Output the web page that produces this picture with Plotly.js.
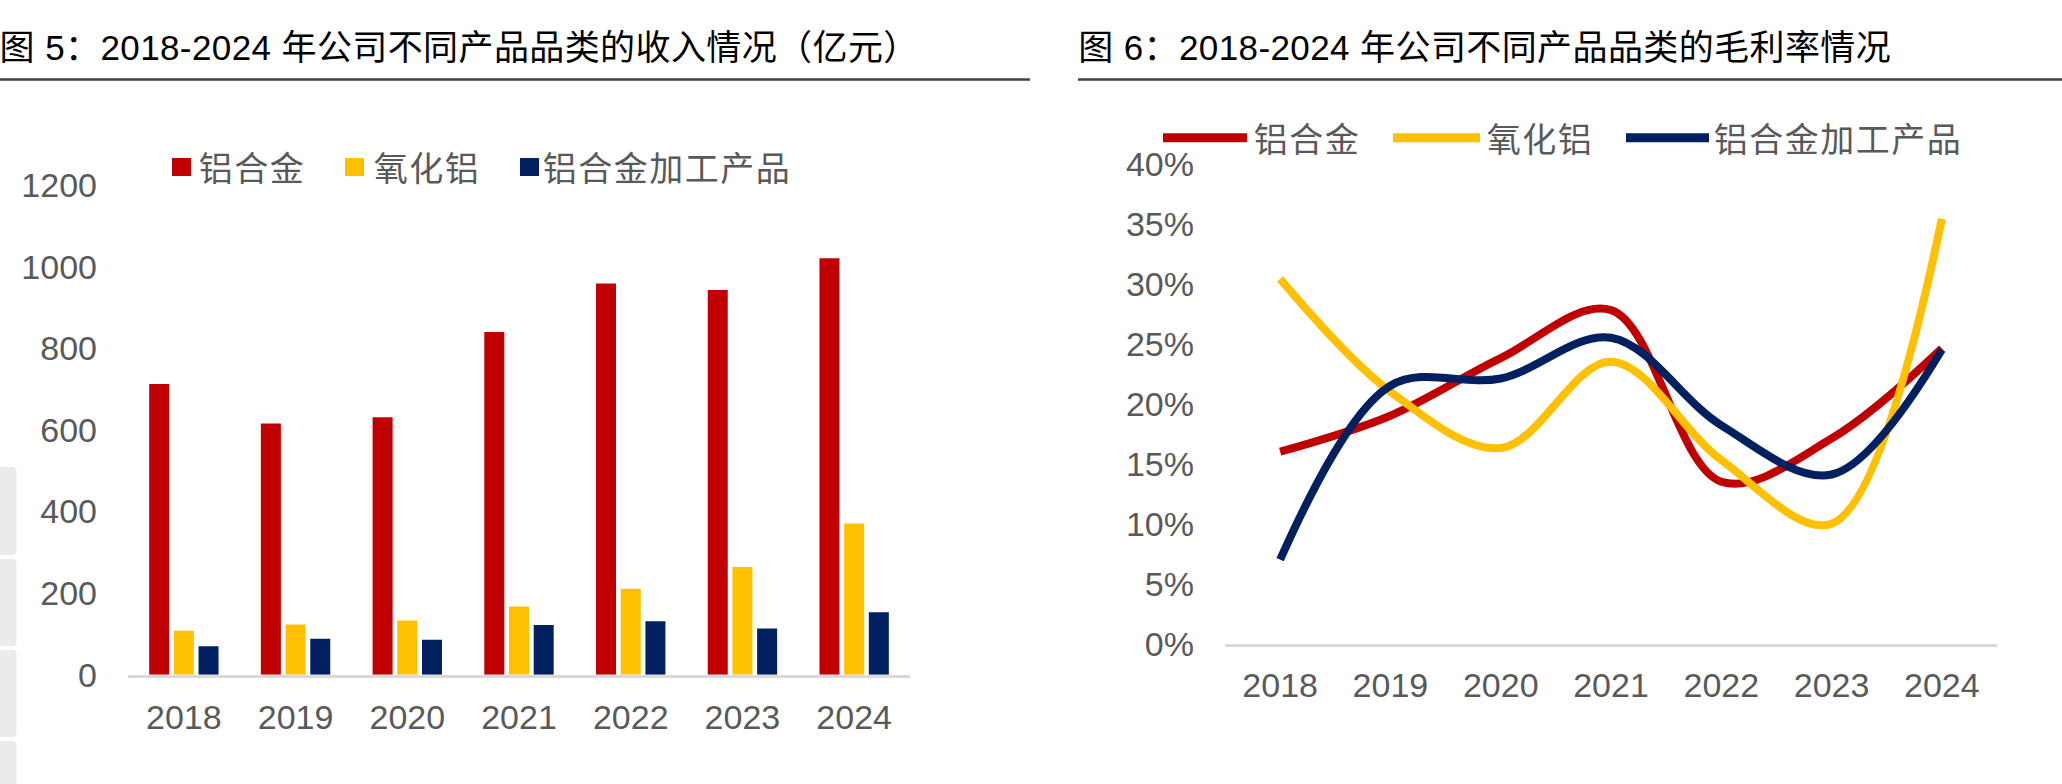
<!DOCTYPE html>
<html>
<head>
<meta charset="utf-8">
<script src="https://cdn.plot.ly/plotly-3.0.1.min.js"></script>
<style>html,body{margin:0;padding:0;background:#fff;}#chart{width:2062px;height:784px;}</style>
</head>
<body>
<div id="chart"></div>
<script>
// ---- data ----
const years = ['2018','2019','2020','2021','2022','2023','2024'];
const seriesNames = ['铝合金','氧化铝','铝合金加工产品'];
// revenue (亿元)
const revAlloy   = [713, 616, 631, 840, 959, 943, 1021];
const revAlumina = [108, 123, 133, 167, 211, 264, 371];
const revProc    = [70, 88, 86, 122, 131, 113, 153];
// gross margin
const gmAlloy   = [0.160, 0.190, 0.238, 0.278, 0.135, 0.171, 0.246];
const gmAlumina = [0.304, 0.210, 0.163, 0.235, 0.153, 0.100, 0.354];
const gmProc    = [0.070, 0.215, 0.221, 0.255, 0.182, 0.141, 0.245];
const revTicks = [0, 200, 400, 600, 800, 1000, 1200];
const gmTicks  = [0, 0.05, 0.10, 0.15, 0.20, 0.25, 0.30, 0.35, 0.40];
const title1 = '图 5：2018-2024 年公司不同产品品类的收入情况（亿元）';
const title2 = '图 6：2018-2024 年公司不同产品品类的毛利率情况';

// ---- style ----
const W = 2062, H = 784;
const colors = ['#C00000', '#FFC000', '#002060'];
const px = x => x / W;
const py = y => 1 - y / H;
const tickFont = {family: 'Liberation Sans, Arial, sans-serif', size: 34, color: '#595959'};
const cjk = 'Noto Sans CJK SC, sans-serif';

const revSeries = [revAlloy, revAlumina, revProc];
const gmSeries = [gmAlloy, gmAlumina, gmProc];

const traces = [];
revSeries.forEach((v, i) => traces.push({
  type: 'bar', x: years, y: v, name: seriesNames[i], xaxis: 'x', yaxis: 'y',
  marker: {color: colors[i]}, showlegend: false, hoverinfo: 'x+y'
}));
gmSeries.forEach((v, i) => traces.push({
  type: 'scatter', mode: 'lines', x: years, y: v, name: seriesNames[i], xaxis: 'x2', yaxis: 'y2',
  line: {color: colors[i], width: 8, shape: 'spline', smoothing: 1}, showlegend: false
}));

const shapes = [
  // title underlines
  {type: 'line', xref: 'paper', yref: 'paper', x0: 0, x1: px(1030), y0: py(79.5), y1: py(79.5), line: {color: '#404040', width: 2.5}},
  {type: 'line', xref: 'paper', yref: 'paper', x0: px(1078), x1: 1, y0: py(79.5), y1: py(79.5), line: {color: '#404040', width: 2.5}},
];
// page side tabs (screenshot artefact)
[[467,555],[559,646],[650,737],[741,800]].forEach(([a,b]) => shapes.push({
  type: 'path', xref: 'paper', yref: 'paper', fillcolor: '#ebebeb', line: {width: 0},
  path: `M ${px(0)} ${py(a)} L ${px(12)} ${py(a)} Q ${px(16.5)} ${py(a)} ${px(16.5)} ${py(a+4)} L ${px(16.5)} ${py(b-4)} Q ${px(16.5)} ${py(b)} ${px(12)} ${py(b)} L ${px(0)} ${py(b)} Z`
}));

const titleFont = {family: 'Liberation Sans, ' + cjk, size: 35, color: '#000'};
const annotations = [
  {xref: 'paper', yref: 'paper', x: px(4), y: py(47), xanchor: 'left', yanchor: 'middle', showarrow: false,
   text: title1, font: titleFont},
  {xref: 'paper', yref: 'paper', x: px(1082), y: py(47), xanchor: 'left', yanchor: 'middle', showarrow: false,
   text: title2, font: titleFont},
];

// left legend (squares)
const legendFont = {family: cjk, size: 34, color: '#595959'};
const legL = [[172, 199], [345, 374], [520, 546]];
legL.forEach(([sx, tx], i) => {
  shapes.push({type: 'rect', xref: 'paper', yref: 'paper', x0: px(sx), x1: px(sx + 19), y0: py(176), y1: py(158),
    fillcolor: colors[i], line: {width: 0}});
  annotations.push({xref: 'paper', yref: 'paper', x: px(tx), y: py(167), xanchor: 'left', yanchor: 'middle', showarrow: false,
    text: seriesNames[i], font: legendFont});
});
// right legend (lines)
const legR = [[1163, 1247, 1254], [1393, 1480, 1487], [1626, 1709, 1717]];
legR.forEach(([a, b, tx], i) => {
  shapes.push({type: 'line', xref: 'paper', yref: 'paper', x0: px(a), x1: px(b), y0: py(137.7), y1: py(137.7),
    line: {color: colors[i], width: 9}});
  annotations.push({xref: 'paper', yref: 'paper', x: px(tx), y: py(138), xanchor: 'left', yanchor: 'middle', showarrow: false,
    text: seriesNames[i], font: legendFont});
});

const layout = {
  width: W, height: H,
  margin: {l: 0, r: 0, t: 0, b: 0},
  paper_bgcolor: '#fff', plot_bgcolor: 'rgba(0,0,0,0)',
  barmode: 'group', bargap: 0.337, bargroupgap: 0.19,
  xaxis: {domain: [px(128), px(910)], anchor: 'y', type: 'category', range: [-0.5, 6.5],
    showline: true, linecolor: '#d9d9d9', linewidth: 3, showgrid: false, zeroline: false,
    ticks: '', tickfont: tickFont, ticklabelstandoff: 10},
  yaxis: {domain: [py(674.7), py(185.3)], anchor: 'x', range: [0, 1200], tickvals: revTicks,
    showline: false, showgrid: false, zeroline: false, ticks: '', tickfont: tickFont, ticklabelstandoff: 30},
  xaxis2: {domain: [px(1225), px(1997)], anchor: 'y2', type: 'category', range: [-0.5, 6.5],
    showline: true, linecolor: '#d9d9d9', linewidth: 3, showgrid: false, zeroline: false,
    ticks: '', tickfont: tickFont, ticklabelstandoff: 9},
  yaxis2: {domain: [py(643.7), py(163.7)], anchor: 'x2', range: [0, 0.4], tickvals: gmTicks, tickformat: '.0%',
    showline: false, showgrid: false, zeroline: false, ticks: '', tickfont: tickFont, ticklabelstandoff: 30},
  shapes: shapes,
  annotations: annotations,
  showlegend: false
};

Plotly.newPlot('chart', traces, layout, {displayModeBar: false, staticPlot: true}).then(() => {
  // wider glyph spacing like the original CJK typeface
  document.querySelectorAll('.annotation-text').forEach(t => {
    const s = t.textContent;
    if (seriesNames.includes(s)) t.style.letterSpacing = '1.5px';
    else if (s === title1 || s === title2) t.style.letterSpacing = '0.4px';
  });
});
</script>
</body>
</html>
